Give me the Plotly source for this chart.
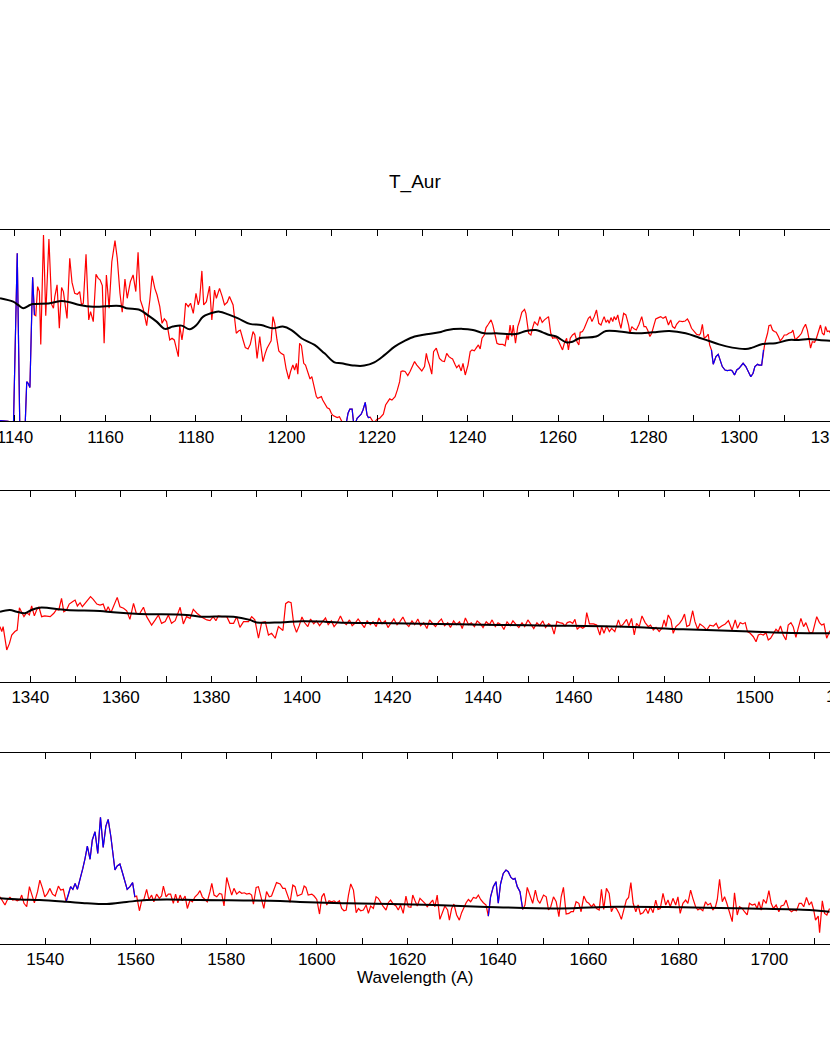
import plotly.graph_objects as go

# ---- panel 1 : 1137-1320 A ----
wave_1 = [1136.7, 1138.5, 1139.6, 1140.5, 1141.1, 1142.2, 1142.6, 1142.9, 1143.3, 1143.9, 1144.3,
          1144.6, 1145.0, 1145.4, 1145.7, 1146.3, 1146.8, 1147.5, 1148.1, 1148.5, 1148.8, 1149.3,
          1149.8, 1150.3, 1150.7, 1151.1, 1151.5, 1152.1, 1152.6, 1153.2, 1153.8, 1154.3, 1154.7,
          1155.1, 1155.7, 1156.3, 1156.7, 1157.3, 1157.9, 1158.4, 1158.8, 1159.3, 1159.7, 1160.2,
          1160.8, 1161.4, 1162.1, 1162.6, 1163.2, 1163.7, 1164.3, 1164.8, 1165.5, 1166.1, 1166.7,
          1167.2, 1167.7, 1168.3, 1169.1, 1169.8, 1170.3, 1170.9, 1171.4, 1172.0, 1172.5, 1173.0,
          1173.5, 1174.2, 1174.7, 1175.2, 1175.7, 1176.1, 1176.4, 1176.9, 1177.3, 1177.7, 1178.3,
          1178.8, 1179.4, 1180.0, 1180.5, 1180.8, 1181.3, 1181.7, 1182.3, 1183.0, 1183.5, 1184.1,
          1184.5, 1185.2, 1185.8, 1186.3, 1186.9, 1187.4, 1188.2, 1188.5, 1188.9, 1189.4, 1189.8,
          1190.4, 1190.9, 1191.5, 1192.0, 1192.6, 1193.0, 1193.5, 1194.1, 1194.3, 1194.8, 1195.3,
          1195.7, 1196.3, 1196.6, 1197.0, 1197.4, 1197.9, 1198.3, 1198.8, 1199.4, 1199.9, 1200.5,
          1200.9, 1201.4, 1201.8, 1202.2, 1202.5, 1202.9, 1203.3, 1203.8, 1204.2, 1204.7, 1205.2,
          1205.6, 1206.1, 1206.6, 1206.9, 1207.7, 1208.0, 1208.6, 1209.0, 1209.5, 1209.9, 1210.3,
          1210.8, 1211.2, 1211.7, 1212.1, 1212.5, 1212.8, 1213.2, 1213.6, 1214.0, 1214.5, 1214.8,
          1215.3, 1215.6, 1216.1, 1216.5, 1216.9, 1217.4, 1217.8, 1218.1, 1218.5, 1218.9, 1219.2,
          1219.7, 1220.0, 1220.6, 1220.9, 1221.4, 1221.9, 1222.4, 1222.8, 1223.3, 1223.7, 1224.0,
          1224.5, 1225.0, 1225.3, 1225.7, 1226.2, 1226.8, 1227.3, 1227.8, 1228.3, 1228.8, 1229.4,
          1229.9, 1230.5, 1230.9, 1231.2, 1231.6, 1232.1, 1232.5, 1233.1, 1233.4, 1233.8, 1234.4,
          1234.9, 1235.4, 1235.9, 1236.4, 1236.7, 1237.3, 1237.6, 1238.1, 1238.6, 1239.0, 1239.5,
          1240.1, 1240.6, 1241.0, 1241.5, 1241.9, 1242.4, 1242.8, 1243.2, 1243.7, 1244.1, 1244.6,
          1245.2, 1245.6, 1245.9, 1246.5, 1247.0, 1247.8, 1248.3, 1248.7, 1249.0, 1249.4, 1249.8,
          1250.1, 1250.6, 1251.1, 1251.5, 1252.0, 1252.6, 1252.9, 1253.5, 1254.0, 1254.4, 1254.8,
          1255.1, 1255.5, 1256.0, 1256.5, 1257.0, 1257.3, 1257.9, 1258.4, 1258.8, 1259.2, 1259.7,
          1260.1, 1260.5, 1261.0, 1261.4, 1261.9, 1262.3, 1262.7, 1263.2, 1263.7, 1264.2, 1264.6,
          1264.9, 1265.4, 1265.8, 1266.2, 1266.7, 1267.1, 1267.5, 1268.0, 1268.5, 1269.0, 1269.5,
          1269.9, 1270.2, 1270.6, 1271.0, 1271.3, 1271.7, 1272.1, 1272.4, 1272.8, 1273.2, 1273.5,
          1273.9, 1274.5, 1275.0, 1275.6, 1275.9, 1276.3, 1276.8, 1277.3, 1277.9, 1278.5, 1279.0,
          1279.4, 1279.8, 1280.3, 1280.7, 1281.2, 1281.6, 1282.2, 1282.7, 1283.2, 1283.8, 1284.4,
          1284.9, 1285.3, 1285.8, 1286.2, 1286.8, 1287.5, 1288.1, 1288.6, 1289.0, 1289.5, 1290.1,
          1290.6, 1291.2, 1291.5, 1291.9, 1292.3, 1292.8, 1293.2, 1293.5, 1293.9, 1294.3, 1294.9,
          1295.4, 1295.7, 1296.3, 1296.9, 1297.4, 1298.2, 1298.5, 1299.0, 1299.5, 1300.0, 1300.5,
          1300.9, 1301.5, 1302.0, 1302.6, 1303.1, 1303.5, 1304.1, 1304.4, 1305.0, 1305.4, 1305.7,
          1306.3, 1306.6, 1307.0, 1307.4, 1307.8, 1308.2, 1308.7, 1309.1, 1309.6, 1310.0, 1310.5,
          1311.0, 1311.6, 1311.9, 1312.4, 1312.9, 1313.2, 1313.8, 1314.2, 1314.7, 1315.1, 1315.5,
          1315.8, 1316.2, 1316.7, 1317.1, 1317.5, 1318.0, 1318.4, 1318.8, 1319.1, 1319.5, 1319.9,
          1320.5]
flux_1 = [0.3, 0.0, -8.9, 87.8, -8.9, -5.4, 20.7, 19.9, 17.6, 75.3, 55.6,
          55.2, 70.4, 67.8, 40.2, 97.4, 55.2, 95.3, 61.1, 59.1, 65.2, 71.3,
          48.6, 69.9, 67.8, 60.8, 53.8, 85.2, 72.6, 66.9, 66.4, 67.8, 60.8,
          61.7, 87.3, 53.0, 57.3, 52.1, 76.8, 74.7, 73.9, 70.9, 40.8, 76.5,
          59.1, 83.4, 94.4, 85.2, 66.9, 57.0, 74.4, 64.3, 73.0, 76.5, 67.8,
          88.3, 63.4, 59.1, 50.0, 63.4, 76.1, 69.5, 66.0, 59.9, 51.2, 53.5,
          52.1, 42.5, 43.4, 42.5, 38.2, 33.8, 50.0, 42.5, 49.5, 61.7, 59.9,
          61.7, 56.4, 66.9, 60.8, 63.4, 78.6, 60.8, 62.5, 70.6, 53.0, 68.6,
          64.3, 69.5, 65.2, 60.8, 62.2, 65.2, 60.8, 54.7, 46.0, 47.2, 47.7,
          42.5, 38.5, 37.8, 40.2, 46.9, 45.1, 32.9, 44.3, 39.9, 31.2, 35.5,
          38.2, 40.8, 42.0, 54.7, 51.2, 42.5, 36.8, 35.5, 34.7, 27.7, 22.1,
          26.0, 29.4, 26.8, 30.3, 24.6, 40.8, 39.5, 30.3, 29.4, 26.0, 22.1,
          23.3, 17.2, 12.9, 12.0, 12.9, 11.1, 8.5, 7.1, 6.4, 4.2, 3.0,
          2.4, 1.9, 2.4, 0.7, -1.9, -2.8, -1.0, 4.2, 6.4, 6.4, -0.2,
          -0.5, 1.6, 3.0, 3.7, 5.9, 9.9, 3.3, 1.9, 2.1, 0.7, -0.5,
          0.2, 1.0, 1.6, 2.4, 3.7, 8.5, 10.3, 11.7, 11.1, 12.0, 12.9,
          16.4, 20.7, 26.0, 26.3, 26.0, 23.9, 26.0, 28.6, 31.2, 29.4, 27.7,
          26.3, 28.6, 35.5, 32.1, 29.4, 24.6, 36.4, 38.2, 35.5, 32.9, 31.5,
          31.2, 35.5, 33.8, 32.9, 32.6, 29.4, 28.0, 29.4, 26.3, 30.3, 24.2,
          29.4, 36.4, 37.3, 36.8, 38.2, 39.9, 37.8, 43.4, 45.1, 49.0, 50.7,
          53.0, 50.3, 46.9, 40.8, 40.2, 40.2, 39.5, 45.1, 42.5, 50.3, 44.3,
          50.3, 40.8, 49.5, 52.4, 57.0, 58.5, 56.4, 46.0, 45.1, 49.0, 52.1,
          51.2, 50.3, 54.7, 51.7, 53.0, 53.5, 54.7, 46.0, 43.4, 43.7, 43.4,
          42.0, 39.9, 37.3, 40.8, 43.4, 37.3, 43.4, 45.1, 46.0, 41.6, 39.9,
          46.5, 46.9, 48.6, 51.2, 53.8, 54.7, 52.1, 54.7, 58.2, 51.2, 50.3,
          53.0, 54.7, 51.7, 53.0, 51.2, 54.2, 52.1, 54.7, 53.0, 55.6, 52.1,
          48.6, 56.4, 55.6, 50.3, 46.0, 49.5, 48.3, 47.7, 50.7, 54.7, 49.5,
          49.5, 47.7, 44.3, 46.0, 50.3, 53.5, 54.2, 54.7, 53.8, 54.7, 50.3,
          53.0, 49.5, 48.6, 50.7, 52.4, 52.1, 52.4, 53.5, 51.7, 48.6, 46.9,
          45.5, 45.1, 46.0, 50.7, 43.4, 44.3, 45.5, 39.9, 37.3, 29.8, 33.8,
          35.0, 32.9, 28.6, 26.8, 26.5, 26.8, 26.3, 24.2, 26.8, 27.7, 29.1,
          30.3, 28.6, 26.0, 23.3, 25.1, 28.6, 29.8, 29.4, 29.4, 37.3, 40.8,
          46.0, 50.0, 50.3, 47.7, 46.9, 46.5, 44.3, 42.0, 43.4, 45.1, 45.1,
          46.0, 46.5, 47.7, 42.5, 43.4, 44.3, 46.0, 48.6, 50.7, 47.7, 42.5,
          38.2, 41.6, 41.3, 43.4, 46.9, 50.3, 46.0, 45.1, 49.5, 46.9, 47.2,
          45.0]
cwave_1 = [1136.7, 1139.6, 1140.7, 1141.8, 1143.3, 1144.0, 1147.7, 1150.3, 1152.1, 1154.3, 1157.3,
           1163.2, 1164.6, 1167.6, 1169.1, 1171.3, 1173.1, 1174.9, 1176.8, 1178.6, 1180.1, 1181.6,
           1184.1, 1185.2, 1187.1, 1189.3, 1191.9, 1194.4, 1197.0, 1199.2, 1201.1, 1203.3, 1206.2,
           1208.4, 1210.6, 1212.1, 1215.0, 1217.2, 1219.4, 1221.7, 1223.9, 1226.1, 1228.3, 1230.9,
           1233.8, 1235.3, 1239.0, 1241.2, 1243.7, 1246.3, 1250.7, 1252.9, 1255.1, 1256.6, 1258.1,
           1259.6, 1261.8, 1263.2, 1264.7, 1268.4, 1270.6, 1273.5, 1277.2, 1280.9, 1284.6, 1288.2,
           1291.2, 1293.4, 1295.6, 1298.5, 1301.5, 1302.9, 1305.2, 1308.1, 1311.0, 1313.2, 1315.4,
           1317.7, 1320.5]
cont_1 = [64.3, 62.5, 60.8, 59.1, 60.8, 61.3, 61.7, 62.9, 62.2, 60.8, 59.9,
          60.3, 59.1, 58.2, 55.9, 52.1, 48.3, 49.5, 50.0, 48.1, 50.3, 54.7,
          57.0, 57.3, 55.9, 53.8, 50.9, 50.3, 48.6, 49.5, 47.7, 43.4, 39.9,
          35.5, 30.8, 30.3, 29.1, 29.1, 30.8, 34.7, 39.0, 42.0, 44.3, 45.5,
          46.5, 47.6, 48.3, 47.7, 46.0, 46.0, 45.6, 47.2, 47.7, 46.5, 45.1,
          44.3, 41.3, 41.6, 43.4, 44.3, 47.2, 46.9, 46.0, 46.5, 47.2, 46.0,
          43.7, 42.0, 40.2, 38.5, 37.8, 38.5, 40.4, 40.8, 42.5, 42.5, 43.0,
          42.5, 42.0]
blue_1 = [(1136.0, 1144.3), (1213.0, 1218.5), (1293.9, 1305.4)]

# ---- panel 2 : 1333-1517 A ----
wave_2 = [1333.3, 1333.7, 1334.0, 1334.4, 1334.8, 1335.4, 1335.9, 1336.6, 1337.1, 1337.6, 1338.1,
          1338.6, 1339.2, 1339.8, 1340.3, 1340.9, 1341.4, 1341.9, 1342.5, 1343.2, 1344.4, 1345.2,
          1345.8, 1346.3, 1346.9, 1347.4, 1348.0, 1348.6, 1349.4, 1349.9, 1350.4, 1351.0, 1351.5,
          1352.1, 1352.6, 1353.3, 1353.9, 1354.7, 1355.4, 1356.1, 1356.7, 1357.2, 1357.8, 1358.3,
          1359.2, 1359.8, 1360.6, 1361.3, 1362.0, 1362.8, 1363.4, 1364.1, 1365.0, 1365.7, 1366.8,
          1367.6, 1368.3, 1369.0, 1369.8, 1370.5, 1371.2, 1372.0, 1373.1, 1373.8, 1374.5, 1375.3,
          1376.0, 1376.8, 1377.9, 1379.0, 1379.7, 1380.4, 1381.0, 1381.5, 1382.3, 1383.4, 1384.1,
          1384.9, 1385.6, 1386.3, 1387.1, 1388.2, 1388.9, 1389.6, 1390.4, 1391.1, 1391.9, 1392.6,
          1393.3, 1394.1, 1394.8, 1395.8, 1396.4, 1397.0, 1397.6, 1398.2, 1398.8, 1399.4, 1400.0,
          1400.6, 1401.3, 1401.9, 1402.6, 1403.2, 1403.9, 1404.5, 1405.2, 1405.8, 1406.5, 1407.1,
          1407.8, 1408.5, 1409.1, 1409.8, 1410.5, 1411.1, 1411.8, 1412.4, 1413.1, 1413.8, 1414.4,
          1415.1, 1415.7, 1416.4, 1417.0, 1417.7, 1418.4, 1419.0, 1419.7, 1420.3, 1421.0, 1421.6,
          1422.3, 1423.0, 1423.6, 1424.3, 1424.9, 1425.6, 1426.2, 1426.9, 1427.6, 1428.2, 1428.9,
          1429.5, 1430.2, 1430.8, 1431.5, 1432.2, 1432.8, 1433.5, 1434.1, 1434.8, 1435.4, 1436.1,
          1436.8, 1437.4, 1438.1, 1438.7, 1439.4, 1440.0, 1440.7, 1441.4, 1442.0, 1442.7, 1443.3,
          1444.0, 1444.6, 1445.3, 1446.0, 1446.6, 1447.3, 1447.9, 1448.6, 1449.2, 1449.9, 1450.6,
          1451.2, 1451.9, 1452.5, 1453.2, 1453.8, 1454.5, 1455.2, 1455.7, 1456.3, 1456.9, 1457.6,
          1458.1, 1458.6, 1459.2, 1459.8, 1460.3, 1460.8, 1461.4, 1462.0, 1462.5, 1462.9, 1463.5,
          1464.4, 1465.1, 1465.8, 1466.2, 1466.7, 1467.3, 1467.9, 1468.4, 1469.1, 1469.9, 1470.4,
          1471.0, 1471.7, 1472.2, 1472.8, 1473.4, 1473.9, 1474.5, 1475.1, 1475.8, 1476.5, 1477.0,
          1477.6, 1478.2, 1478.9, 1479.5, 1480.0, 1480.4, 1480.9, 1481.5, 1482.0, 1482.6, 1483.4,
          1484.0, 1484.5, 1485.0, 1485.6, 1486.3, 1486.8, 1487.4, 1487.9, 1488.7, 1489.4, 1490.1,
          1490.9, 1491.5, 1492.0, 1492.7, 1493.5, 1494.2, 1495.0, 1495.7, 1496.2, 1496.8, 1497.4,
          1497.9, 1498.4, 1499.0, 1499.7, 1500.3, 1500.8, 1501.3, 1501.9, 1502.5, 1503.0, 1503.5,
          1504.1, 1504.7, 1505.2, 1505.7, 1506.3, 1506.9, 1507.4, 1508.0, 1508.5, 1509.1, 1509.6,
          1510.2, 1510.8, 1511.3, 1512.1, 1512.8, 1513.7, 1514.3, 1514.8, 1515.3, 1515.9, 1516.6]
flux_2 = [29.0, 26.4, 29.0, 22.0, 16.8, 20.2, 24.6, 26.4, 27.2, 38.9, 36.3,
          34.2, 36.3, 35.1, 39.8, 34.6, 37.7, 39.4, 34.2, 34.6, 34.2, 36.0,
          38.0, 37.7, 43.8, 36.8, 37.7, 40.8, 42.1, 42.9, 39.8, 41.5, 39.4,
          41.2, 42.1, 44.7, 43.3, 40.8, 40.3, 40.8, 36.8, 39.4, 36.3, 39.1,
          44.3, 39.4, 38.6, 37.3, 32.8, 41.2, 36.0, 35.6, 39.1, 34.2, 29.8,
          32.5, 35.1, 30.7, 31.6, 35.1, 30.7, 32.1, 39.1, 30.4, 34.2, 33.3,
          38.0, 36.0, 33.9, 32.5, 32.1, 34.2, 32.1, 34.6, 34.2, 34.2, 30.7,
          30.7, 34.2, 28.6, 31.6, 31.6, 34.2, 32.5, 22.9, 31.1, 31.6, 24.6,
          25.5, 22.9, 29.0, 27.0, 41.0, 42.0, 41.5, 30.0, 26.0, 29.5, 34.0,
          31.0, 29.0, 33.0, 30.5, 32.0, 29.5, 31.5, 33.5, 30.0, 32.0, 29.0,
          31.0, 34.5, 31.5, 30.0, 32.5, 29.5, 31.0, 33.0, 30.5, 28.5, 32.0,
          30.0, 31.5, 29.0, 33.5, 30.5, 32.0, 28.5, 31.0, 33.0, 30.0, 31.5,
          34.0, 30.5, 29.0, 32.0, 30.0, 33.0, 29.5, 31.0, 28.0, 32.5, 30.5,
          29.0, 31.5, 33.0, 29.5, 31.0, 28.5, 32.0, 30.0, 31.5, 28.0, 33.5,
          30.0, 31.0, 29.0, 32.0, 30.5, 28.5, 31.5, 30.0, 32.5, 29.0, 31.0,
          30.0, 27.5, 31.5, 29.5, 32.0, 30.0, 28.5, 31.0, 29.0, 32.5, 30.0,
          28.0, 31.0, 29.5, 32.0, 28.5, 30.5, 29.0, 25.1, 31.6, 31.1, 30.7,
          29.3, 31.1, 31.6, 30.7, 32.8, 27.6, 29.0, 28.1, 29.0, 36.3, 30.4,
          30.4, 29.8, 24.6, 29.0, 25.5, 29.3, 26.4, 28.1, 26.4, 32.5, 29.0,
          30.4, 32.8, 29.3, 33.3, 24.6, 30.7, 29.0, 34.6, 31.1, 29.0, 29.8,
          27.2, 28.6, 26.4, 28.1, 32.5, 29.0, 35.1, 32.5, 25.5, 29.0, 30.7,
          32.8, 35.6, 29.0, 29.8, 37.3, 31.6, 27.6, 30.4, 29.0, 27.2, 29.8,
          29.3, 30.7, 28.1, 29.3, 30.4, 32.1, 27.2, 32.5, 28.1, 31.1, 30.4,
          31.1, 26.4, 25.5, 23.7, 21.1, 24.6, 25.1, 24.6, 25.8, 22.0, 22.9,
          25.1, 27.6, 26.4, 29.3, 24.6, 22.0, 29.8, 31.1, 29.0, 23.4, 28.1,
          33.3, 29.0, 31.1, 25.8, 25.8, 34.2, 31.1, 29.8, 30.4, 22.9, 26.9]
cwave_2 = [1333.3, 1335.5, 1337.0, 1338.8, 1340.3, 1342.1, 1348.0, 1355.4, 1358.3, 1364.2, 1374.5,
           1377.5, 1384.9, 1388.5, 1390.0, 1395.2, 1400.0, 1405.0, 1410.0, 1420.0, 1430.0, 1440.0,
           1450.0, 1454.8, 1469.5, 1484.2, 1499.0, 1506.3, 1516.6]
cont_2 = [36.8, 37.7, 36.8, 36.0, 37.7, 38.9, 37.7, 37.2, 36.5, 35.6, 35.1,
          34.2, 34.2, 32.5, 31.2, 31.2, 31.8, 31.6, 31.0, 30.8, 30.4, 30.0,
          29.7, 29.5, 29.0, 27.6, 26.4, 25.8, 25.5]
blue_2 = []

# ---- panel 3 : 1530-1713 A ----
wave_3 = [1530.0, 1530.6, 1531.1, 1531.6, 1532.2, 1532.8, 1533.3, 1533.8, 1534.4, 1534.8, 1535.3,
          1535.9, 1536.5, 1537.0, 1537.6, 1538.3, 1538.8, 1539.4, 1539.9, 1540.5, 1541.0, 1541.6,
          1542.2, 1542.9, 1543.4, 1544.0, 1544.6, 1545.1, 1545.6, 1546.1, 1546.6, 1547.1, 1547.7,
          1548.3, 1548.8, 1549.3, 1549.9, 1550.4, 1551.0, 1551.6, 1552.2, 1552.8, 1553.4, 1553.9,
          1554.5, 1555.0, 1555.4, 1555.9, 1556.5, 1557.0, 1557.6, 1558.1, 1558.7, 1559.3, 1559.8,
          1560.2, 1560.8, 1561.3, 1561.8, 1562.4, 1562.9, 1563.5, 1564.0, 1564.6, 1565.2, 1565.7,
          1566.1, 1566.7, 1567.2, 1567.7, 1568.3, 1568.8, 1569.3, 1569.8, 1570.3, 1570.9, 1571.4,
          1572.0, 1572.5, 1573.1, 1573.7, 1574.2, 1574.7, 1575.3, 1575.8, 1576.4, 1576.8, 1577.3,
          1577.9, 1578.5, 1579.0, 1579.5, 1580.1, 1580.7, 1581.2, 1581.7, 1582.3, 1582.9, 1583.4,
          1584.0, 1584.5, 1585.1, 1585.6, 1586.0, 1586.6, 1587.1, 1587.6, 1588.3, 1588.9, 1589.5,
          1590.0, 1590.6, 1591.1, 1591.9, 1592.5, 1593.0, 1593.5, 1594.1, 1594.7, 1595.2, 1595.7,
          1596.2, 1596.7, 1597.2, 1597.6, 1598.1, 1598.9, 1599.4, 1600.0, 1600.6, 1601.1, 1601.6,
          1602.2, 1602.7, 1603.3, 1603.8, 1604.4, 1605.0, 1605.5, 1606.0, 1606.5, 1607.0, 1607.5,
          1608.1, 1608.7, 1609.2, 1609.7, 1610.3, 1610.9, 1611.4, 1611.9, 1612.5, 1613.1, 1613.6,
          1614.1, 1614.7, 1615.3, 1615.8, 1616.3, 1616.9, 1617.5, 1618.0, 1618.5, 1619.1, 1619.7,
          1620.2, 1620.8, 1621.2, 1621.7, 1622.2, 1622.8, 1623.4, 1623.9, 1624.4, 1625.0, 1625.6,
          1626.1, 1626.6, 1627.2, 1627.8, 1628.3, 1628.9, 1629.3, 1629.8, 1630.3, 1630.9, 1631.5,
          1632.0, 1632.5, 1633.0, 1633.5, 1634.0, 1634.6, 1635.2, 1635.7, 1636.2, 1636.8, 1637.4,
          1637.9, 1638.4, 1639.0, 1639.6, 1640.1, 1640.6, 1641.2, 1641.8, 1642.3, 1642.9, 1643.4,
          1643.8, 1644.3, 1644.9, 1645.5, 1646.0, 1646.5, 1647.1, 1647.7, 1648.3, 1648.8, 1649.3,
          1650.1, 1650.7, 1651.2, 1651.7, 1652.3, 1652.9, 1653.5, 1654.0, 1654.5, 1655.1, 1655.7,
          1656.2, 1656.7, 1657.3, 1657.9, 1658.4, 1659.0, 1659.6, 1660.1, 1660.7, 1661.2, 1661.8,
          1662.4, 1662.9, 1663.4, 1664.0, 1664.6, 1665.1, 1665.6, 1666.2, 1666.8, 1667.3, 1667.8,
          1668.4, 1668.9, 1669.4, 1669.9, 1670.5, 1671.0, 1671.5, 1672.1, 1672.7, 1673.2, 1673.7,
          1674.3, 1674.9, 1675.4, 1675.9, 1676.5, 1677.1, 1677.6, 1678.1, 1678.7, 1679.3, 1679.8,
          1680.3, 1680.9, 1681.5, 1682.0, 1682.6, 1683.1, 1683.7, 1684.2, 1684.7, 1685.3, 1685.9,
          1686.4, 1687.0, 1687.5, 1688.1, 1688.5, 1689.0, 1689.6, 1690.1, 1690.6, 1691.2, 1691.8,
          1692.3, 1692.9, 1693.4, 1694.0, 1694.5, 1695.1, 1695.6, 1696.2, 1696.8, 1697.3, 1697.7,
          1698.2, 1698.7, 1699.3, 1699.9, 1700.4, 1700.9, 1701.5, 1702.1, 1702.6, 1703.2, 1703.7,
          1704.3, 1704.9, 1705.4, 1706.0, 1706.6, 1707.1, 1707.6, 1708.2, 1708.8, 1709.3, 1709.8,
          1710.2, 1710.8, 1711.1, 1711.7, 1712.2, 1712.7, 1713.3]
flux_3 = [24.7, 22.1, 20.4, 23.0, 24.4, 23.0, 23.3, 22.6, 23.3, 25.6, 21.3,
          19.5, 30.0, 26.1, 21.6, 27.4, 33.4, 29.1, 24.7, 26.5, 29.1, 26.1,
          25.1, 30.3, 28.2, 28.6, 22.1, 25.6, 30.0, 28.6, 31.7, 28.6, 33.4,
          39.5, 44.8, 51.2, 44.3, 54.4, 58.7, 47.4, 66.2, 50.5, 61.7, 65.2,
          56.1, 46.5, 38.7, 40.8, 41.8, 37.8, 33.4, 28.6, 30.0, 32.1, 24.7,
          25.1, 17.4, 22.6, 23.3, 28.6, 23.3, 25.6, 22.1, 26.1, 23.9, 25.1,
          30.3, 24.7, 26.1, 26.1, 21.3, 26.1, 21.6, 25.6, 22.6, 25.1, 18.6,
          23.0, 22.1, 24.7, 26.1, 27.9, 24.7, 23.3, 22.1, 27.4, 31.7, 25.6,
          24.7, 26.5, 26.1, 19.9, 34.8, 29.6, 25.6, 29.1, 26.1, 27.4, 26.5,
          26.8, 26.1, 26.5, 25.6, 20.9, 29.6, 30.0, 25.1, 18.6, 27.4, 24.7,
          25.1, 29.1, 32.1, 31.4, 29.1, 29.1, 26.1, 21.8, 30.8, 30.0, 25.1,
          25.6, 26.1, 30.3, 29.6, 25.6, 26.1, 25.1, 23.3, 15.7, 24.7, 26.5,
          20.4, 22.6, 22.1, 22.6, 21.6, 22.6, 18.6, 17.4, 17.8, 25.6, 31.4,
          28.2, 16.4, 18.6, 17.4, 17.8, 20.4, 16.0, 19.9, 18.6, 24.7, 23.9,
          21.6, 19.5, 17.8, 21.6, 23.0, 20.9, 19.9, 17.8, 20.4, 16.0, 25.1,
          19.5, 19.2, 25.6, 22.6, 19.9, 23.9, 22.6, 21.3, 19.5, 21.3, 23.0,
          19.5, 25.6, 12.9, 16.9, 19.9, 17.8, 12.5, 18.6, 20.9, 15.2, 12.5,
          16.4, 19.5, 21.6, 23.3, 22.1, 24.4, 23.9, 25.6, 23.3, 21.6, 20.4,
          14.6, 24.7, 30.0, 32.6, 21.3, 31.4, 36.9, 38.7, 37.8, 34.8, 33.8,
          34.3, 30.0, 27.4, 18.1, 20.4, 29.6, 25.6, 21.3, 28.2, 23.0, 21.3,
          25.6, 24.7, 17.8, 19.5, 24.7, 22.1, 14.3, 24.7, 29.6, 15.7, 16.0,
          16.9, 16.9, 22.1, 21.3, 16.9, 25.1, 22.1, 21.3, 19.5, 20.9, 18.6,
          17.8, 28.6, 18.1, 29.1, 26.5, 16.9, 19.5, 18.6, 16.0, 12.9, 16.9,
          23.0, 24.4, 32.1, 21.3, 16.9, 20.4, 15.7, 16.4, 18.6, 16.0, 19.5,
          16.4, 23.0, 18.1, 18.6, 26.5, 20.4, 23.0, 19.5, 23.9, 20.4, 24.7,
          16.0, 21.3, 23.0, 21.3, 28.2, 23.9, 19.5, 17.8, 18.6, 17.4, 22.1,
          20.4, 21.3, 17.8, 19.5, 23.3, 33.8, 22.1, 24.7, 21.3, 16.0, 11.7,
          26.8, 15.2, 19.5, 18.6, 16.9, 15.2, 21.3, 20.4, 20.9, 18.6, 22.1,
          17.8, 23.3, 21.3, 27.9, 21.3, 18.6, 20.4, 16.9, 19.9, 20.4, 23.0,
          18.1, 16.9, 17.8, 17.4, 21.3, 21.3, 19.5, 24.4, 20.4, 22.1, 17.8,
          12.5, 14.6, 5.9, 22.6, 16.0, 15.2, 18.6]
cwave_3 = [1530.0, 1534.4, 1538.8, 1544.7, 1549.2, 1553.6, 1558.0, 1562.4, 1566.8, 1574.2, 1591.9,
           1596.3, 1606.6, 1621.3, 1636.1, 1653.8, 1666.2, 1680.9, 1695.6, 1708.9, 1713.3]
cont_3 = [23.9, 23.3, 23.0, 22.1, 21.3, 20.9, 22.0, 23.0, 23.3, 23.0, 22.5,
          22.0, 21.3, 20.7, 19.5, 18.6, 19.5, 19.2, 18.6, 17.8, 16.9]
blue_3 = [(1544.6, 1559.8), (1637.9, 1645.5)]

x_ranges = [(1136.69, 1320.1), (1333.31, 1516.63), (1530.0, 1713.4)]
y_domains = [(0.5957, 0.7793), (0.3455, 0.5288), (0.0940, 0.2776)]
# tick labels that sit just past the right edge of a panel (only partly visible)
edge_labels = [(2, 1520)]

panels = [(wave_1, flux_1, cwave_1, cont_1, blue_1),
          (wave_2, flux_2, cwave_2, cont_2, blue_2),
          (wave_3, flux_3, cwave_3, cont_3, blue_3)]

fig = go.Figure()
font_family = "Liberation Sans, Arial, sans-serif"
tick_font = dict(family=font_family, size=17, color="black")

for i, (wave, flux, cwave, cont, blue) in enumerate(panels, start=1):
    xa = "x" if i == 1 else f"x{i}"
    ya = "y" if i == 1 else f"y{i}"
    # spectrum
    fig.add_trace(go.Scatter(x=wave, y=flux, mode="lines", line=dict(color="#ff0000", width=1.2),
                             xaxis=xa, yaxis=ya, hoverinfo="skip"))
    # flagged regions in blue
    for lo, hi in blue:
        seg = [(w, f) for w, f in zip(wave, flux) if lo <= w <= hi]
        fig.add_trace(go.Scatter(x=[s[0] for s in seg], y=[s[1] for s in seg], mode="lines",
                                 line=dict(color="#0000ff", width=1.2),
                                 xaxis=xa, yaxis=ya, hoverinfo="skip"))
    # continuum fit
    fig.add_trace(go.Scatter(x=cwave, y=cont, mode="lines", line=dict(color="black", width=2, shape="spline"),
                             xaxis=xa, yaxis=ya, hoverinfo="skip"))

    fig.update_layout({
        f"xaxis{'' if i == 1 else i}": dict(
            domain=[0, 1], anchor=ya, range=list(x_ranges[i - 1]),
            showline=True, linecolor="black", linewidth=1, mirror="allticks",
            ticks="inside", ticklen=6, tickcolor="black", tickwidth=1,
            dtick=20, tick0=1000, showgrid=False, zeroline=False, tickfont=tick_font,
            ticklabeloverflow="allow", automargin=False,
            minor=dict(dtick=10, tick0=1000, ticks="inside", ticklen=6, tickcolor="black", showgrid=False),
        ),
        f"yaxis{'' if i == 1 else i}": dict(
            domain=list(y_domains[i - 1]), anchor=xa, range=[0, 100],
            visible=False, showgrid=False, zeroline=False, automargin=False,
        ),
    })

# labels beyond the axis range, placed with the same linear wavelength scale
for p, val in edge_labels:
    lo, hi = x_ranges[p - 1]
    y0 = y_domains[p - 1][0]
    fig.add_annotation(text=str(val), x=(val - lo) / (hi - lo), y=y0, xref="paper", yref="paper",
                       xanchor="center", yanchor="top", yshift=-3, showarrow=False, font=tick_font)

fig.add_annotation(text="T_Aur", x=0.5, y=1 - 182 / 1042, xref="paper", yref="paper",
                   xanchor="center", yanchor="middle", showarrow=False,
                   font=dict(family=font_family, size=19, color="black"))
fig.add_annotation(text="Wavelength (A)", x=0.5, y=1 - 977 / 1042, xref="paper", yref="paper",
                   xanchor="center", yanchor="middle", showarrow=False,
                   font=dict(family=font_family, size=17, color="black"))

fig.update_layout(width=830, height=1042, margin=dict(l=0, r=0, t=0, b=0, autoexpand=False),
                  showlegend=False, plot_bgcolor="white", paper_bgcolor="white")

fig.write_html("out.html", config={"displayModeBar": False},
               post_script="document.body.style.margin='0';")
